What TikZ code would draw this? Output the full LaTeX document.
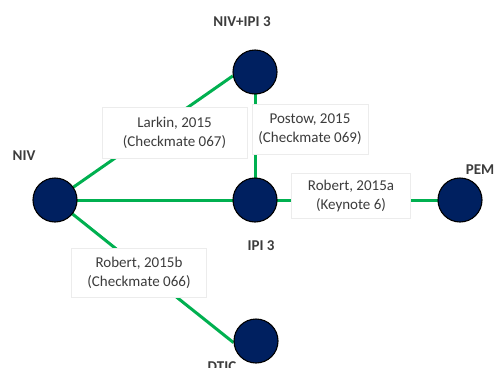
\documentclass[tikz,border=0pt]{standalone}
\usepackage{fontspec}
\setmainfont{Carlito}
\definecolor{netgreen}{RGB}{0,176,80}
\definecolor{navy}{RGB}{0,32,96}
\definecolor{boxline}{RGB}{236,236,236}
\definecolor{labeltext}{RGB}{60,60,60}
\begin{document}
\begin{tikzpicture}[x=1pt,y=-1pt,
  treat/.style={circle,draw=black,line width=1.1pt,fill=navy,minimum size=44pt,inner sep=0pt},
  link/.style={draw=netgreen,line width=3pt},
  trialbox/.style={draw=boxline,line width=0.8pt,fill=white,align=center,inner sep=0pt,
    text=labeltext,font=\fontsize{15}{19}\selectfont},
  tname/.style={font=\bfseries\fontsize{15}{18}\selectfont,text=labeltext,anchor=base,inner sep=0pt}]
\useasboundingbox (0,0) rectangle (494,367);

% treatment positions
\coordinate (pNIVIPI) at (255,72);
\coordinate (pNIV) at (55,200);
\coordinate (pIPI) at (255,200);
\coordinate (pPEM) at (460,200);
\coordinate (pDTIC) at (256,341);

% treatment labels (drawn beneath the circles)
\node[tname] (lNIVIPI) at (242,26) {NIV+IPI 3};
\node[tname] (lNIV) at (24,160) {NIV};
\node[tname] (lIPI) at (261,250) {IPI 3};
\node[tname] (lPEM) at (480,174) {PEM};
\node[tname] (lDTIC) at (222,371) {DTIC};

% treatment circles, invisible first so the links can use their anchors
\node[treat,draw=none,fill=none] (nivipi) at (pNIVIPI) {};
\node[treat,draw=none,fill=none] (niv) at (pNIV) {};
\node[treat,draw=none,fill=none] (ipi) at (pIPI) {};
\node[treat,draw=none,fill=none] (pem) at (pPEM) {};
\node[treat,draw=none,fill=none] (dtic) at (pDTIC) {};

% comparison links
\draw[link] (niv.center) -- (nivipi.190);
\draw[link] (niv.center) -- (ipi.center);
\draw[link] (nivipi.center) -- (ipi.center);
\draw[link] (ipi.center) -- (pem.center);
\draw[link] (niv.center) -- (dtic.184);

% trial boxes
\node[trialbox,minimum width=145pt,minimum height=51pt] (larkin) at (174.5,133) {Larkin, 2015\\(Checkmate 067)};
\node[trialbox,minimum width=116pt,minimum height=50pt] (postow) at (310,129.5) {Postow, 2015\\(Checkmate 069)};
\node[trialbox,minimum width=119pt,minimum height=45pt] (keynote) at (351,195.5) {Robert, 2015a\\(Keynote 6)};
\node[trialbox,minimum width=135pt,minimum height=49pt] (robertb) at (139,273) {Robert, 2015b\\(Checkmate 066)};

% filled circles on top
\foreach \n in {nivipi,niv,ipi,pem,dtic}
  \node[treat] at (\n.center) {};
\end{tikzpicture}
\end{document}
